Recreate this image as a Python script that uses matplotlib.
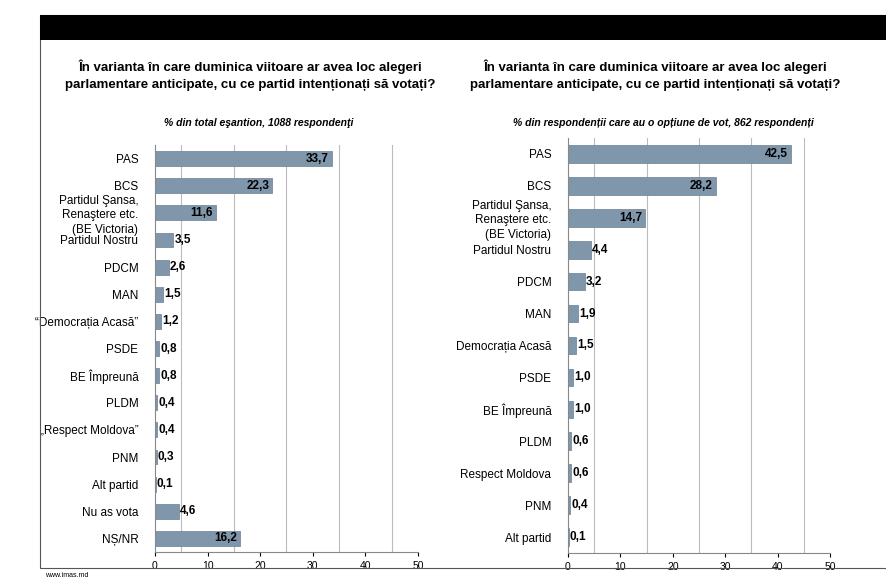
import matplotlib.pyplot as plt
from matplotlib.patches import Rectangle

plt.rcParams["font.family"] = ["Liberation Sans", "DejaVu Sans"]

left_labels = ["PAS", "BCS", "Partidul Şansa,\nRenaştere etc.\n(BE Victoria)", "Partidul Nostru",
               "PDCM", "MAN", "“Democrația Acasă”", "PSDE", "BE Împreună", "PLDM",
               "„Respect Moldova”", "PNM", "Alt partid", "Nu as vota", "NȘ/NR"]
left_values = [33.7, 22.3, 11.6, 3.5, 2.6, 1.5, 1.2, 0.8, 0.8, 0.4, 0.4, 0.3, 0.1, 4.6, 16.2]

right_labels = ["PAS", "BCS", "Partidul Şansa,\nRenaştere etc.\n(BE Victoria)", "Partidul Nostru",
                "PDCM", "MAN", "Democrația Acasă", "PSDE", "BE Împreună", "PLDM",
                "Respect Moldova", "PNM", "Alt partid"]
right_values = [42.5, 28.2, 14.7, 4.4, 3.2, 1.9, 1.5, 1.0, 1.0, 0.6, 0.6, 0.4, 0.1]

title = "În varianta în care duminica viitoare ar avea loc alegeri\nparlamentare anticipate, cu ce partid intenționați să votați?"
bar_color = "#7f96ab"

fig = plt.figure(figsize=(8.87, 5.83), dpi=100)
# frame and black header band
fig.patches.append(Rectangle((40 / 887, 1 - 568 / 583), 847 / 887, 553 / 583, transform=fig.transFigure,
                             fill=False, edgecolor="#555555", linewidth=0.8))
fig.patches.append(Rectangle((40 / 887, 1 - 40 / 583), 847 / 887, 25 / 583, transform=fig.transFigure,
                             facecolor="black", edgecolor="none"))


def panel(rect, labels, values, subtitle, title_x, sub_y):
    ax = fig.add_axes(rect)
    y = list(range(len(values)))
    ax.barh(y, values, height=0.55, color=bar_color, edgecolor="#6a7f93", linewidth=0.5)
    for yi, v in zip(y, values):
        txt = f"{v:.1f}".replace(".", ",")
        if v >= 10:
            ax.text(v - 0.6, yi, txt, ha="right", va="center", fontsize=8.5, fontweight="bold")
        else:
            ax.text(v + 0.2, yi, txt, ha="left", va="center", fontsize=8.5, fontweight="bold")
    ax.set_yticks(y)
    ax.set_yticklabels(labels, fontsize=8.5, linespacing=1.25)
    ax.set_ylim(len(values) - 0.5, -0.5)
    ax.set_xlim(0, 50)
    ax.set_xticks(range(0, 51, 10))
    ax.tick_params(axis="x", labelsize=7.5, length=3)
    ax.tick_params(axis="y", length=0, pad=12)
    for g in (5, 15, 25, 35, 45):
        ax.axvline(g, color="#bbbbbb", linewidth=0.8, zorder=0)
    for s in ("top", "right"):
        ax.spines[s].set_visible(False)
    ax.spines["left"].set_color("#888888")
    ax.spines["bottom"].set_color("#888888")
    fig.text(title_x, 1 - 75 / 583, title, ha="center", va="center", fontsize=9.5, fontweight="bold",
             linespacing=1.6)
    fig.text(title_x + 0.01, sub_y, subtitle, ha="center", va="center", fontsize=7.5,
             fontstyle="italic", fontweight="bold")
    return ax


panel([155 / 887, 1 - 552 / 583, 263 / 887, 407 / 583], left_labels, left_values,
      "% din total eşantion, 1088 respondenţi", 250 / 887, 1 - 123 / 583)
panel([568 / 887, 1 - 553 / 583, 262 / 887, 415 / 583], right_labels, right_values,
      "% din respondenții care au o opțiune de vot, 862 respondenți", 655 / 887, 1 - 123 / 583)

fig.text(45 / 887, 1 - 577 / 583, "www.imas.md", fontsize=5)

fig.savefig("out.png", dpi=100)
